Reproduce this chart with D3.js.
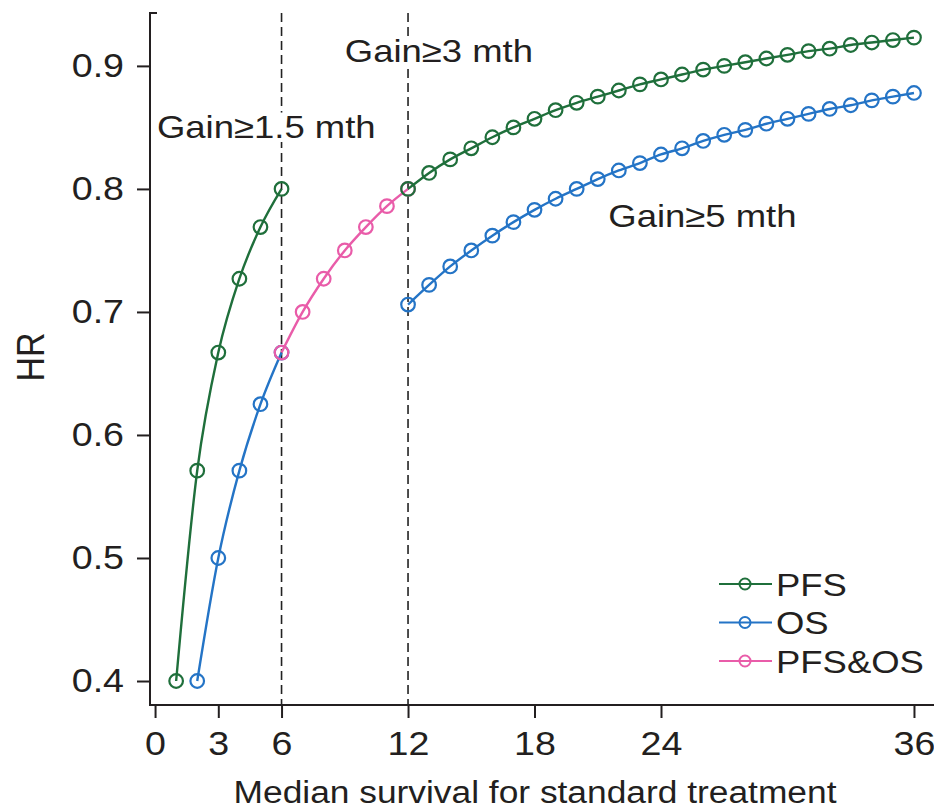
<!DOCTYPE html>
<html>
<head lang="en">
    <meta charset="UTF-8">
    <title>HR vs median survival</title>
    <style>
        body { margin: 0; background: #fff; }
        text { font-family: "Liberation Sans", Arial, sans-serif; fill: #231f20; }
    </style>
</head>
<body>
<svg width="934" height="809"></svg>

<script src="https://cdn.jsdelivr.net/npm/d3@7"></script>
<script>
    // values
    var pfsMonthsA = [1, 2, 3, 4, 5, 6];
    var pfsHrA = [0.400, 0.571, 0.667, 0.727, 0.769, 0.800];
    var pfsMonthsB = [12, 13, 14, 15, 16, 17, 18, 19, 20, 21, 22, 23, 24, 25, 26, 27, 28, 29, 30, 31, 32, 33, 34, 35, 36];
    var pfsHrB = [0.800, 0.813, 0.824, 0.833, 0.842, 0.850, 0.857, 0.864, 0.870, 0.875, 0.880, 0.885, 0.889,
        0.893, 0.897, 0.900, 0.903, 0.906, 0.909, 0.912, 0.914, 0.917, 0.919, 0.921, 0.923];
    var osMonthsA = [2, 3, 4, 5, 6];
    var osHrA = [0.400, 0.500, 0.571, 0.625, 0.667];
    var osMonthsB = [12, 13, 14, 15, 16, 17, 18, 19, 20, 21, 22, 23, 24, 25, 26, 27, 28, 29, 30, 31, 32, 33, 34, 35, 36];
    var osHrB = [0.706, 0.722, 0.737, 0.750, 0.762, 0.773, 0.783, 0.792, 0.800, 0.808, 0.815, 0.821, 0.828,
        0.833, 0.839, 0.844, 0.848, 0.853, 0.857, 0.861, 0.865, 0.868, 0.872, 0.875, 0.878];
    var bothMonths = [6, 7, 8, 9, 10, 11, 12];
    var bothHr = [0.667, 0.700, 0.727, 0.750, 0.769, 0.786, 0.800];

    var xTicks = [0, 3, 6, 12, 18, 24, 36];
    var yTicks = [0.4, 0.5, 0.6, 0.7, 0.8, 0.9];
    var cutoffs = [6, 12];
    var legendNames = ["PFS", "OS", "PFS&OS"];

    var green = "#1f6f3b", blue = "#2474c6", pink = "#e95ca9";
    var sx = 1.14; // the lettering in the original is a bit wide

    var svg = d3.select("svg");
    var pLeft = 150, pRight = 934, pTop = 13, pBottom = 705;

    var x = d3.scaleLinear().domain([-0.24, 36.95]).range([pLeft, pRight]);
    var y = d3.scaleLinear().domain([0.3805, 0.943]).range([pBottom, pTop]);

    // wide text helper
    function label(parent, tx, ty, str, size, anchor) {
        return parent.append("text")
                .attr("transform", "translate(" + tx + "," + ty + ") scale(" + sx + ",1)")
                .attr("text-anchor", anchor || "start")
                .style("font-size", size + "px")
                .text(str);
    }

    // axes
    var yAxis = svg.append("g")
            .attr("transform", "translate(" + pLeft + ",0)")
            .call(d3.axisLeft(y).tickValues(yTicks).tickFormat(d3.format(".1f")).tickSize(13).tickPadding(13));
    var xAxis = svg.append("g")
            .attr("transform", "translate(0," + pBottom + ")")
            .call(d3.axisBottom(x).tickValues(xTicks).tickSize(13).tickPadding(14));
    [xAxis, yAxis].forEach(function (a) {
        a.attr("font-size", null).attr("font-family", null);
        a.select(".domain").remove();
        a.selectAll("line").attr("stroke", "#231f20").attr("stroke-width", 2);
        a.selectAll("text").style("font-size", "33px").attr("fill", "#231f20");
    });
    yAxis.selectAll("text").attr("x", -26 / sx).attr("transform", "scale(" + sx + ",1)");
    xAxis.selectAll("text").attr("transform", "scale(" + sx + ",1)");

    svg.append("path")
            .attr("d", "M" + (pLeft + 7) + "," + pTop + "H" + pLeft + "V" + pBottom + "H" + pRight)
            .attr("fill", "none")
            .attr("stroke", "#231f20")
            .attr("stroke-width", 2);

    // dashed cut-off lines
    svg.selectAll(".cut")
            .data(cutoffs)
            .enter()
            .append("line")
            .attr("class", "cut")
            .attr("x1", function (d) { return x(d); })
            .attr("x2", function (d) { return x(d); })
            .attr("y1", pTop)
            .attr("y2", pBottom)
            .attr("stroke", "#222")
            .attr("stroke-width", 1.6)
            .attr("stroke-dasharray", "9,5");

    // annotations with white backing
    var notes = [
        {t: "Gain\u22653 mth", m: 9.0, v: 0.903},
        {t: "Gain\u22651.5 mth", m: 0.09, v: 0.841},
        {t: "Gain\u22655 mth", m: 21.5, v: 0.769}
    ];
    notes.forEach(function (n) {
        var g = svg.append("g");
        var tx = label(g, x(n.m), y(n.v), n.t, 32);
        var b = tx.node().getBBox();
        g.insert("rect", "text")
                .attr("transform", tx.attr("transform"))
                .attr("x", b.x - 2).attr("y", b.y + 3)
                .attr("width", b.width + 4).attr("height", b.height - 6)
                .attr("fill", "#fff");
    });

    var line = d3.line()
            .x(function (d) { return x(d[0]); })
            .y(function (d) { return y(d[1]); })
            .curve(d3.curveMonotoneX);

    function series(months, hr, color) {
        var pts = d3.zip(months, hr);
        svg.append("path")
                .datum(pts)
                .attr("d", line)
                .attr("fill", "none")
                .attr("stroke", color)
                .attr("stroke-width", 2.4);
        svg.append("g").selectAll("circle")
                .data(pts)
                .enter()
                .append("circle")
                .attr("cx", function (d) { return x(d[0]); })
                .attr("cy", function (d) { return y(d[1]); })
                .attr("r", 6.8)
                .attr("fill", "none")
                .attr("stroke", color)
                .attr("stroke-width", 2.2);
    }

    series(osMonthsA, osHrA, blue);
    series(osMonthsB, osHrB, blue);
    series(bothMonths, bothHr, pink);
    series(pfsMonthsA, pfsHrA, green);
    series(pfsMonthsB, pfsHrB, green);

    // axis titles
    label(svg, 535, 803, "Median survival for standard treatment", 31, "middle");
    svg.append("text")
            .attr("transform", "translate(44,357) scale(" + sx + ",1) rotate(-90)")
            .attr("text-anchor", "middle")
            .style("font-size", "34px")
            .text("HR");

    // legend
    var colors = [green, blue, pink];
    var lg = svg.append("g").attr("transform", "translate(719,584)");
    legendNames.forEach(function (name, i) {
        var row = lg.append("g").attr("transform", "translate(0," + i * 38.5 + ")");
        row.append("line").attr("x1", 0).attr("x2", 53).attr("y1", 0).attr("y2", 0)
                .attr("stroke", colors[i]).attr("stroke-width", 2.2);
        row.append("circle").attr("cx", 26).attr("cy", 0).attr("r", 5.5)
                .attr("fill", "none").attr("stroke", colors[i]).attr("stroke-width", 2);
        label(row, 57, 11.5, name, 32);
    });
</script>
</body>
</html>
